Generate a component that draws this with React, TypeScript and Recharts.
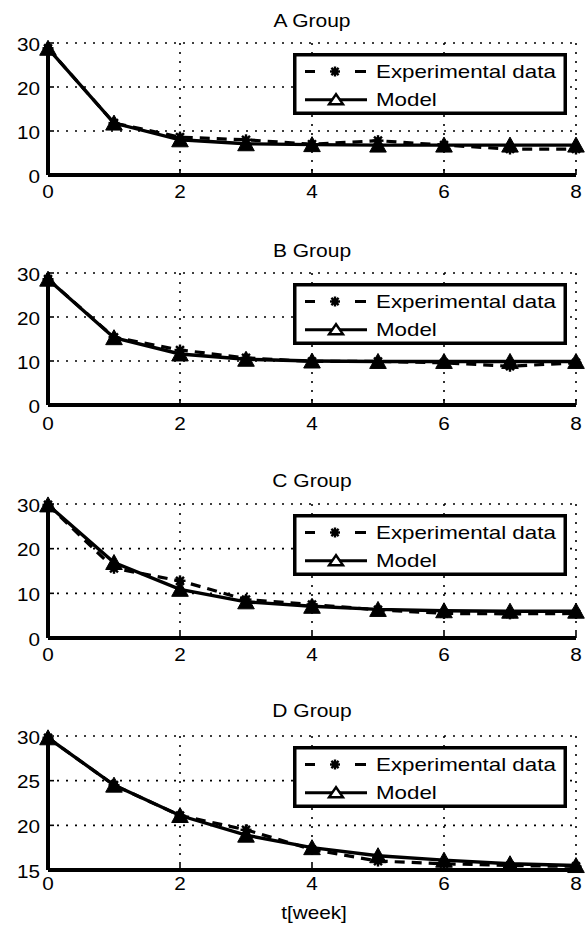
import React from 'react';
import { CartesianGrid, Line, LineChart, XAxis, YAxis } from 'recharts';

// weeks on the x axis
const weeks = [0, 1, 2, 3, 4, 5, 6, 7, 8];

const groupTitles = ['A Group', 'B Group', 'C Group', 'D Group'];

const expA = [28.8, 11.8, 8.6, 8.0, 7.0, 7.8, 6.8, 5.9, 5.9];
const modelA = [28.8, 11.8, 8.0, 7.1, 6.9, 6.8, 6.8, 6.8, 6.8];

const expB = [28.6, 15.4, 12.5, 10.7, 9.9, 9.9, 9.6, 8.8, 9.6];
const modelB = [28.6, 15.3, 11.6, 10.4, 10.0, 9.9, 9.9, 9.9, 9.9];

const expC = [29.8, 15.6, 12.8, 8.6, 7.5, 6.3, 5.5, 5.4, 5.5];
const modelC = [29.8, 16.9, 10.9, 8.1, 7.1, 6.4, 6.1, 6.0, 6.0];

const expD = [29.8, 24.5, 21.1, 19.5, 17.3, 16.0, 15.7, 15.5, 15.4];
const modelD = [29.8, 24.5, 21.1, 18.9, 17.5, 16.6, 16.1, 15.7, 15.5];

const xTicks = [0, 2, 4, 6, 8];
const yTicksABC = [0, 10, 20, 30];
const yTicksD = [15, 20, 25, 30];

const legendLabels = ['Experimental data', 'Model'];
const xAxisTitle = 't[week]';

// layout (page pixels)
const PLOT_LEFT = 48;
const PLOT_RIGHT = 576;
const PAD_TOP = 15;
const BOTTOM_AXIS_H = 40;
const layout = [
  { plotTop: 43, plotH: 132, titleTop: 15, tickGap: 10 },
  { plotTop: 273, plotH: 132, titleTop: 245, tickGap: 11.5 },
  { plotTop: 504, plotH: 134, titleTop: 475, tickGap: 10 },
  { plotTop: 736, plotH: 134, titleTop: 705, tickGap: 7 },
];

const FONT = '"Liberation Sans", Arial, Helvetica, sans-serif';
const INK = '#000';

function Star({ cx, cy, r = 5.5 }: { cx: number; cy: number; r?: number }) {
  const d = r * 0.72;
  return (
    <g>
      <circle cx={cx} cy={cy} r={r * 0.65} fill={INK} />
      <line x1={cx - r} x2={cx + r} y1={cy} y2={cy} stroke={INK} strokeWidth={2.4} />
      <line x1={cx} x2={cx} y1={cy - r} y2={cy + r} stroke={INK} strokeWidth={2.4} />
      <line x1={cx - d} x2={cx + d} y1={cy - d} y2={cy + d} stroke={INK} strokeWidth={2.4} />
      <line x1={cx - d} x2={cx + d} y1={cy + d} y2={cy - d} stroke={INK} strokeWidth={2.4} />
    </g>
  );
}

function Tri({ cx, cy, w = 8.3, up = 8, down = 7, sw = 1, fill = INK }: any) {
  return (
    <polygon
      points={`${cx},${cy - up} ${cx - w},${cy + down} ${cx + w},${cy + down}`}
      fill={fill}
      stroke={INK}
      strokeWidth={sw}
    />
  );
}

function BottomTick({ x, y, payload, gap }: any) {
  const axisY = y - gap;
  return (
    <g>
      <line x1={x} x2={x} y1={axisY} y2={axisY - 6} stroke={INK} strokeWidth={1.6} />
      <text
        transform={`translate(${x},${y}) scale(1.12,1)`}
        textAnchor="middle"
        dy="0.71em"
        fontSize={18.5}
        fontFamily={FONT}
        fill={INK}
      >
        {payload.value}
      </text>
    </g>
  );
}

function LeftTick({ x, y, payload }: any) {
  const axisX = x + 8;
  return (
    <g>
      <line x1={axisX} x2={axisX + 6} y1={y} y2={y} stroke={INK} strokeWidth={1.6} />
      <text
        transform={`translate(${x},${y}) scale(1.12,1)`}
        textAnchor="end"
        dy="0.42em"
        fontSize={18.5}
        fontFamily={FONT}
        fill={INK}
      >
        {payload.value}
      </text>
    </g>
  );
}

function TopTick({ x, y }: any) {
  return <line x1={x} x2={x} y1={y} y2={y + 6} stroke={INK} strokeWidth={1.6} />;
}

function RightTick({ x, y }: any) {
  return <line x1={x} x2={x - 6} y1={y} y2={y} stroke={INK} strokeWidth={1.6} />;
}

function LegendBox() {
  const row1 = 18.5;
  const row2 = 46.7;
  return (
    <svg width={274} height={62} style={{ position: 'absolute', left: 293, top: PAD_TOP + 10 }}>
      <rect x={1.75} y={1.75} width={270.5} height={58.5} fill="#fff" stroke={INK} strokeWidth={3.5} />
      <line x1={12} x2={22} y1={row1} y2={row1} stroke={INK} strokeWidth={3} />
      <line x1={62} x2={73} y1={row1} y2={row1} stroke={INK} strokeWidth={3} />
      <Star cx={42} cy={row1} r={5} />
      <text transform={`translate(83,${row1 + 6.7}) scale(1.2,1)`} fontSize={18.6} fontFamily={FONT} fill={INK}>
        {legendLabels[0]}
      </text>
      <line x1={12} x2={74} y1={row2} y2={row2} stroke={INK} strokeWidth={3} />
      <Tri cx={43} cy={row2} w={7} up={5.5} down={4.5} sw={2.4} fill="#fff" />
      <text transform={`translate(83,${row2 + 6.7}) scale(1.2,1)`} fontSize={18.6} fontFamily={FONT} fill={INK}>
        {legendLabels[1]}
      </text>
    </svg>
  );
}

function Panel({ idx, exp, model, yDomain, yTicks }: any) {
  const { plotTop, plotH, tickGap } = layout[idx];
  const data = weeks.map((w, i) => ({ w, exp: exp[i], model: model[i] }));
  const height = PAD_TOP + plotH + BOTTOM_AXIS_H;
  const frame = { stroke: INK, strokeWidth: 4 };
  return (
    <div style={{ position: 'absolute', left: 0, top: plotTop - PAD_TOP, width: 587, height }}>
      <LineChart
        width={587}
        height={height}
        data={data}
        margin={{ top: PAD_TOP, right: 587 - PLOT_RIGHT, bottom: 0, left: 0 }}
      >
        <CartesianGrid
          xAxisId="bottom"
          yAxisId="left"
          stroke={INK}
          strokeWidth={1.6}
          strokeDasharray="2 7"
          horizontalValues={yTicks}
          verticalValues={xTicks}
        />
        <XAxis
          xAxisId="bottom"
          dataKey="w"
          type="number"
          domain={[0, 8]}
          ticks={xTicks}
          interval={0}
          orientation="bottom"
          height={BOTTOM_AXIS_H}
          tickSize={0}
          tickMargin={tickGap}
          tickLine={false}
          axisLine={frame}
          tick={(p: any) => <BottomTick {...p} gap={tickGap} />}
        />
        <XAxis
          xAxisId="top"
          dataKey="w"
          type="number"
          domain={[0, 8]}
          ticks={xTicks}
          interval={0}
          orientation="top"
          height={0}
          tickSize={0}
          tickMargin={0}
          tickLine={false}
          axisLine={frame}
          tick={(p: any) => <TopTick {...p} />}
        />
        <YAxis
          yAxisId="left"
          type="number"
          domain={yDomain}
          ticks={yTicks}
          interval={0}
          width={PLOT_LEFT}
          tickSize={0}
          tickMargin={8}
          tickLine={false}
          axisLine={frame}
          tick={(p: any) => <LeftTick {...p} />}
        />
        <YAxis
          yAxisId="right"
          orientation="right"
          type="number"
          domain={yDomain}
          ticks={yTicks}
          interval={0}
          width={0}
          tickSize={0}
          tickMargin={0}
          tickLine={false}
          axisLine={frame}
          tick={(p: any) => <RightTick {...p} />}
        />
        <Line
          xAxisId="bottom"
          yAxisId="left"
          type="linear"
          dataKey="exp"
          stroke={INK}
          strokeWidth={3.2}
          strokeDasharray="10 7"
          dot={(p: any) => (p.cx == null ? <g key={`e${p.index}`} /> : <Star key={`e${p.index}`} cx={p.cx} cy={p.cy} />)}
          activeDot={false}
          isAnimationActive={false}
        />
        <Line
          xAxisId="bottom"
          yAxisId="left"
          type="linear"
          dataKey="model"
          stroke={INK}
          strokeWidth={3.4}
          dot={(p: any) => (p.cx == null ? <g key={`m${p.index}`} /> : <Tri key={`m${p.index}`} cx={p.cx} cy={p.cy} />)}
          activeDot={false}
          isAnimationActive={false}
        />
      </LineChart>
      <LegendBox />
    </div>
  );
}

export default function App() {
  const series = [
    { exp: expA, model: modelA, yDomain: [0, 30], yTicks: yTicksABC },
    { exp: expB, model: modelB, yDomain: [0, 30], yTicks: yTicksABC },
    { exp: expC, model: modelC, yDomain: [0, 30], yTicks: yTicksABC },
    { exp: expD, model: modelD, yDomain: [15, 30], yTicks: yTicksD },
  ];
  const centerX = (PLOT_LEFT + PLOT_RIGHT) / 2;
  return (
    <div style={{ position: 'absolute', left: 0, top: 0, width: 587, height: 931, background: '#fff', fontFamily: FONT }}>
      {series.map((s, i) => (
        <React.Fragment key={groupTitles[i]}>
          <div
            style={{
              position: 'absolute',
              left: centerX - 100,
              width: 200,
              top: layout[i].titleTop - 2.3,
              textAlign: 'center',
              fontSize: 17.5,
              lineHeight: '17.5px',
              color: INK,
              transform: 'scaleX(1.2)',
              whiteSpace: 'nowrap',
            }}
          >
            {groupTitles[i]}
          </div>
          <Panel idx={i} {...s} />
        </React.Fragment>
      ))}
      <div
        style={{
          position: 'absolute',
          left: centerX + 2 - 100,
          width: 200,
          top: 904,
          textAlign: 'center',
          fontSize: 18.5,
          lineHeight: '18.5px',
          color: INK,
          transform: 'scaleX(1.12)',
          whiteSpace: 'nowrap',
        }}
      >
        {xAxisTitle}
      </div>
    </div>
  );
}
